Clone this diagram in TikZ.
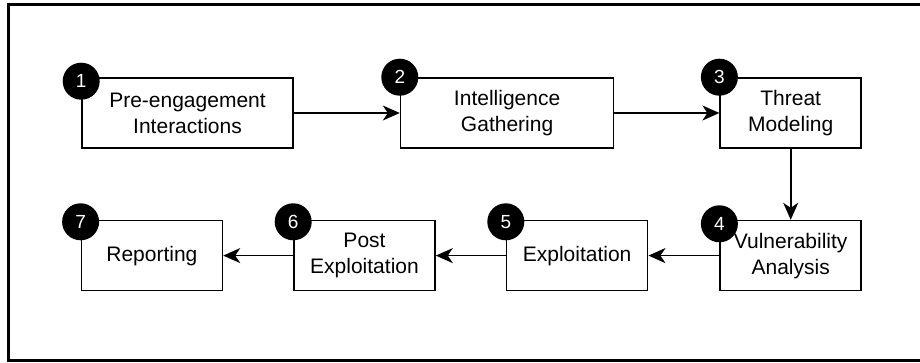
\documentclass[tikz,border=0pt]{standalone}
\usepackage{fontspec}
\setmainfont{Liberation Sans}
\usepackage{tikz}
\usetikzlibrary{arrows.meta,calc,positioning}

\tikzset{phase/.style={draw,line width=1.6pt,minimum width=141pt,minimum height=70pt,
                       align=center,inner sep=2pt,font=\fontsize{21}{26}\selectfont},
         badge/.style={circle,fill=black,text=white,minimum size=37pt,inner sep=0pt,
                       font=\fontsize{19}{22}\selectfont}}

\begin{document}
\begin{tikzpicture}[->,>={Stealth[length=17pt,width=15pt,inset=5pt]},x=1pt,y=1pt,
                    node distance=70pt,line width=1.6pt]

		\useasboundingbox (0,0) rectangle (920,362);
		\draw[-,line width=3pt] (930,357) -| (8,2) -- (930,2);

 		 \node[phase,minimum width=211pt] (1) at (187.5,249) {Pre-engagement\\Interactions};
 		 \node[phase,minimum width=213pt] (2) [right=106pt of 1] {Intelligence\\Gathering};
		 \node[phase] (3) [right=105pt of 2] {Threat\\Modeling};
		 \node[phase] (4) [below=71pt of 3] {Vulnerability\\Analysis};
		 \node[phase] (5) [left=71pt of 4] {Exploitation};
		 \node[phase] (6) [left=of 5] {Post\\Exploitation};
		 \node[phase] (7) [left=of 6] {Reporting};

		 \foreach \i/\dy in {1/-4,2/0,3/0,4/-4,5/-2,6/-2,7/-2}
		   \node[badge] (b\i) at ([yshift=\dy pt]\i.north west) {\i};

		\begin{scope}
		  \path	 (1) 	edge (2)
				 (2)	edge (3)
				 (3) 	edge (4)
				 (4) 	edge (5)
				 (5) 	edge (6)
				 (6) 	edge (7);
		\end{scope}
	\end{tikzpicture}
\end{document}
